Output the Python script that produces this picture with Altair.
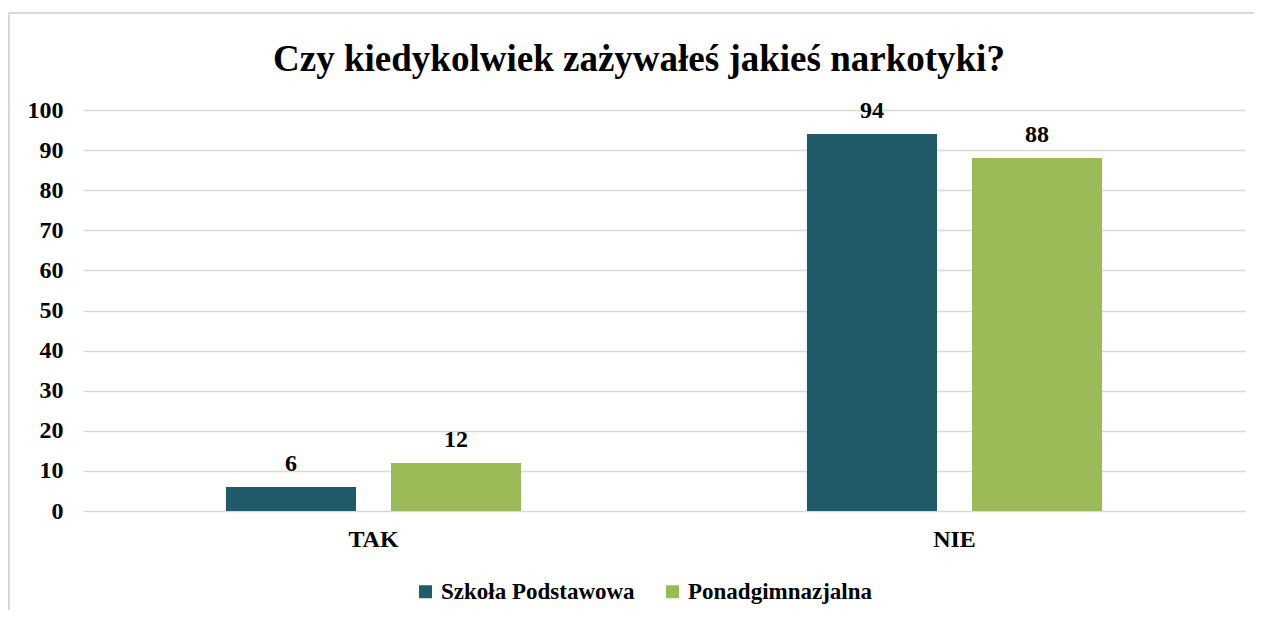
import altair as alt
import pandas as pd

categories = ["TAK", "NIE"]
series = ["Szkoła Podstawowa", "Ponadgimnazjalna"]
szkola_podstawowa = [6, 94]
ponadgimnazjalna = [12, 88]
y_ticks = [0, 10, 20, 30, 40, 50, 60, 70, 80, 90, 100]
colors = ["#215A69", "#9BBB59"]
title_text = "Czy kiedykolwiek zażywałeś jakieś narkotyki?"

rows = []
for i, c in enumerate(categories):
    rows.append({"odp": c, "grupa": series[0], "wartosc": szkola_podstawowa[i]})
    rows.append({"odp": c, "grupa": series[1], "wartosc": ponadgimnazjalna[i]})
df = pd.DataFrame(rows)

FONT = "Times New Roman, Liberation Serif, serif"

x = alt.X(
    "odp:N", sort=categories, title=None,
    scale=alt.Scale(paddingInner=0.492, paddingOuter=0.246),
    axis=alt.Axis(labelAngle=0, labelFont=FONT, labelFontSize=24, labelFontWeight="bold",
                  labelColor="#000000", labelPadding=16, domain=False, ticks=False, grid=False),
)
xo = alt.XOffset("grupa:N", sort=series, scale=alt.Scale(paddingInner=0.212, paddingOuter=0))
y = alt.Y(
    "wartosc:Q", title=None,
    scale=alt.Scale(domain=[0, 100], nice=False),
    axis=alt.Axis(values=y_ticks, labelFont=FONT, labelFontSize=24, labelFontWeight="bold",
                  labelColor="#000000", labelPadding=20, domain=False, ticks=False,
                  grid=True, gridColor="#d9d9d9", gridWidth=1.5),
)
color = alt.Color(
    "grupa:N", sort=series,
    scale=alt.Scale(domain=series, range=colors),
    legend=alt.Legend(title=None, orient="none", legendX=331, legendY=470, direction="horizontal",
                      symbolType="square", symbolSize=169, symbolStrokeWidth=0,
                      labelFont=FONT, labelFontSize=23, labelFontWeight="bold", labelColor="#000000",
                      labelOffset=4, columnPadding=26, labelLimit=400),
)

base = alt.Chart(df)
bars = base.mark_bar().encode(x=x, xOffset=xo, y=y, color=color)
labels = base.mark_text(dy=-16, baseline="alphabetic", font=FONT, fontSize=24,
                        fontWeight="bold", color="#000000").encode(
    x=x, xOffset=xo, y=y, text=alt.Text("wartosc:Q"))

frame = alt.Chart(pd.DataFrame({"a": [0]})).mark_rect(
    fill="transparent", stroke="#d9d9d9", strokeWidth=2).encode(
    x=alt.value(-74), x2=alt.value(1200), y=alt.value(-97), y2=alt.value(560))

chart = alt.layer(frame, bars, labels).properties(
    width=1162, height=401,
    title=alt.TitleParams(title_text, font=FONT, fontSize=37, fontWeight="bold", color="#000000",
                          anchor="middle", frame="group", dx=-25, offset=-67),
    autosize=alt.AutoSizeParams(type="none"),
    padding={"left": 75, "top": 102, "right": 9, "bottom": 99},
).configure_view(stroke=None)

chart.save("out.html", embed_options={"renderer": "svg", "actions": False})
